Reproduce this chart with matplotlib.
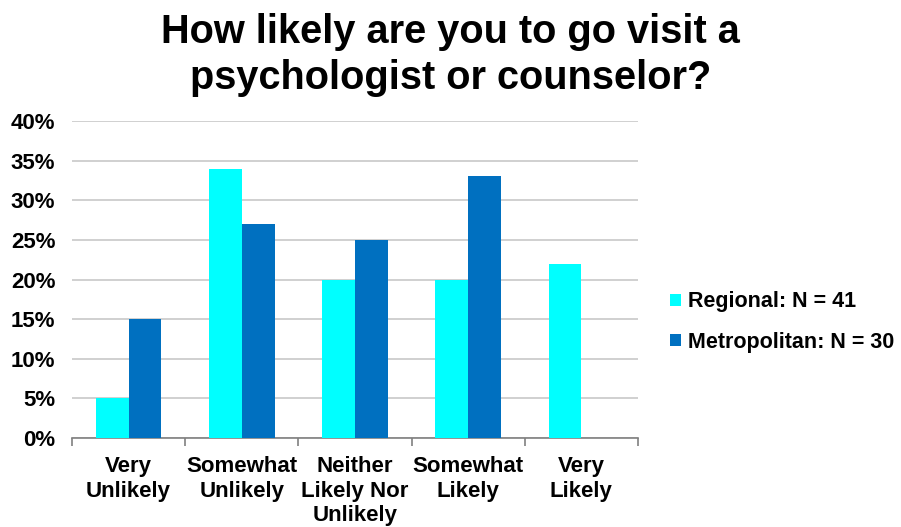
import matplotlib
matplotlib.use("Agg")
import matplotlib.pyplot as plt
import numpy as np

categories = ["Very\nUnlikely", "Somewhat\nUnlikely", "Neither\nLikely Nor\nUnlikely", "Somewhat\nLikely", "Very\nLikely"]
regional = [5, 34, 20, 20, 22]
metropolitan = [15, 27, 25, 33, 0]
series_names = ["Regional: N = 41", "Metropolitan: N = 30"]
colors = ["#00FFFF", "#0070C0"]
yticks = [0, 5, 10, 15, 20, 25, 30, 35, 40]

plt.rcParams['font.family'] = ['Liberation Sans', 'DejaVu Sans']
plt.rcParams['font.weight'] = 'bold'

fig = plt.figure(figsize=(9.01, 5.27), dpi=100)
ax = fig.add_axes([72/901, 1-438/527, (638-72)/901, (438-121)/527])

x = np.arange(len(categories))
w = 0.29
ax.bar(x - w/2, regional, w, color=colors[0], label=series_names[0], zorder=3)
ax.bar(x + w/2, metropolitan, w, color=colors[1], label=series_names[1], zorder=3)

ax.set_xlim(-0.5, len(categories) - 0.5)
ax.set_ylim(0, 40)
ax.set_yticks(yticks)
ax.set_yticklabels([f"{v}%" for v in yticks], fontsize=16, fontweight='bold')
ax.yaxis.grid(True, color='#C8C8C8', linewidth=1.2, zorder=0)
ax.tick_params(axis='y', length=0, pad=12)

ax.set_xticks(x)
ax.set_xticklabels(categories, fontsize=16, fontweight='bold', linespacing=1.22, va='top')
ax.tick_params(axis='x', length=0, pad=13)
ax.set_xticks(np.arange(-0.5, len(categories)), minor=True)
ax.tick_params(axis='x', which='minor', length=6, color='#808080', width=1.2)

for s in ['top', 'right', 'left']:
    ax.spines[s].set_visible(False)
ax.spines['bottom'].set_color('#808080')
ax.spines['bottom'].set_linewidth(1.2)

fig.text(0.5, 1-55/527, "How likely are you to go visit a\npsychologist or counselor?",
         ha='center', va='center', fontsize=28.6, fontweight='bold', linespacing=1.28)

leg = ax.legend(loc='center left', bbox_to_anchor=(651/901, 1-322/527), bbox_transform=fig.transFigure,
                frameon=False, fontsize=15.5, handlelength=0.5, handleheight=0.5, handletextpad=0.3,
                labelspacing=0.9)
for t in leg.get_texts():
    t.set_fontweight('bold')

fig.savefig("out.png", dpi=100)
